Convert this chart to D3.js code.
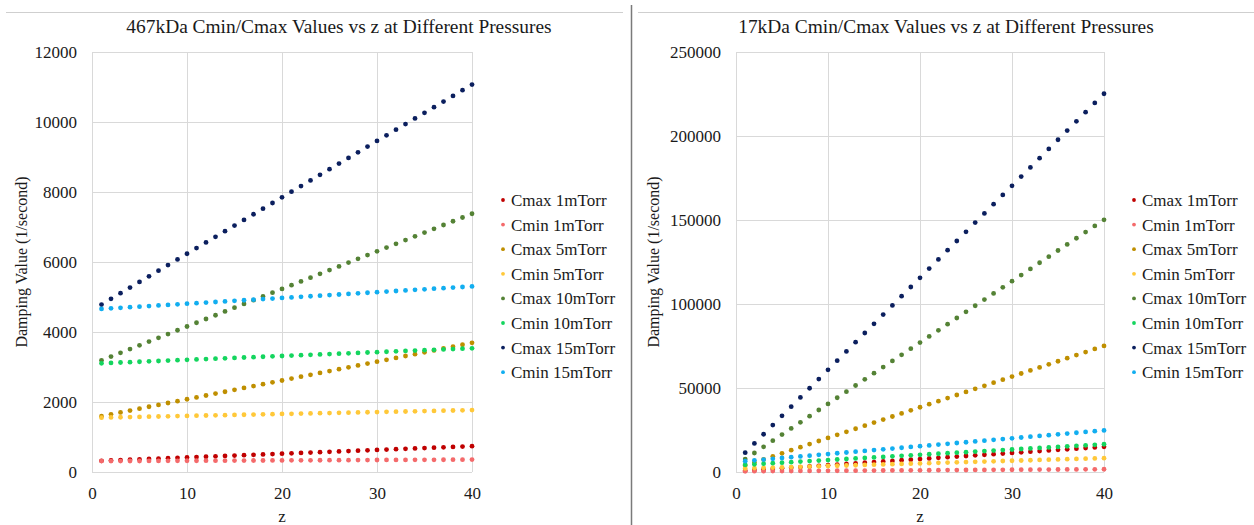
<!DOCTYPE html>
<head>
<title>Cmin/Cmax vs z</title>
<style>
  body { margin: 0; background: #fff; }
  svg { display: block; }
  svg text { font-family: "Liberation Serif", "Times New Roman", serif; }
</style>
</head>
<body>
<svg width="1254" height="525" id="svg1"></svg>
<script src="https://d3js.org/d3.v7.min.js"></script>
<script>

// z values (charge states) shared by both panels
var zValues = [1, 2, 3, 4, 5, 6, 7, 8, 9, 10, 11, 12, 13, 14, 15, 16, 17, 18, 19, 20,
               21, 22, 23, 24, 25, 26, 27, 28, 29, 30, 31, 32, 33, 34, 35, 36, 37, 38, 39, 40];

var seriesNames = ["Cmax 1mTorr", "Cmin 1mTorr", "Cmax 5mTorr", "Cmin 5mTorr",
                   "Cmax 10mTorr", "Cmin 10mTorr", "Cmax 15mTorr", "Cmin 15mTorr"];

var seriesColors = ["#c00000", "#f46a6b", "#bf8f00", "#ffc839",
                    "#548235", "#14d55e", "#0b1f5e", "#12aef0"];

// 467kDa panel
var k467Cmax1 = [319, 330, 341, 351, 362, 373, 384, 394, 405, 416, 426, 437, 448, 459, 469, 480, 491, 502, 512, 523,
                 534, 545, 555, 566, 577, 588, 598, 609, 620, 631, 641, 652, 663, 674, 684, 695, 706, 716, 727, 738];
var k467Cmin1 = [311, 312, 313, 314, 315, 316, 317, 318, 319, 321, 322, 323, 324, 325, 326, 327, 328, 329, 330, 332,
                 333, 334, 335, 336, 337, 338, 339, 340, 341, 343, 344, 345, 346, 347, 348, 349, 350, 351, 352, 354];
var k467Cmax5 = [1595, 1649, 1703, 1756, 1810, 1864, 1917, 1971, 2025, 2078, 2132, 2186, 2240, 2293, 2347, 2401, 2454, 2508, 2562, 2615,
                 2669, 2723, 2777, 2830, 2884, 2938, 2991, 3045, 3099, 3152, 3206, 3260, 3314, 3367, 3421, 3475, 3528, 3582, 3636, 3690];
var k467Cmin5 = [1553, 1559, 1564, 1570, 1575, 1581, 1586, 1592, 1597, 1603, 1608, 1614, 1619, 1625, 1630, 1636, 1641, 1647, 1652, 1658,
                 1663, 1669, 1674, 1680, 1685, 1691, 1696, 1702, 1707, 1713, 1718, 1724, 1729, 1735, 1740, 1746, 1751, 1757, 1762, 1768];
var k467Cmax10 = [3190, 3298, 3405, 3513, 3620, 3727, 3835, 3942, 4050, 4157, 4264, 4372, 4479, 4587, 4694, 4801, 4909, 5016, 5124, 5231,
                  5338, 5446, 5553, 5661, 5768, 5875, 5983, 6090, 6198, 6305, 6412, 6520, 6627, 6735, 6842, 6949, 7057, 7164, 7272, 7379];
var k467Cmin10 = [3106, 3117, 3128, 3139, 3150, 3161, 3172, 3183, 3194, 3205, 3216, 3227, 3238, 3249, 3260, 3271, 3282, 3293, 3304, 3315,
                  3326, 3337, 3348, 3359, 3370, 3381, 3392, 3403, 3414, 3425, 3436, 3447, 3458, 3469, 3480, 3491, 3502, 3513, 3524, 3535];
var k467Cmax15 = [4785, 4947, 5108, 5269, 5430, 5591, 5752, 5913, 6075, 6236, 6397, 6558, 6719, 6880, 7041, 7202, 7364, 7525, 7686, 7847,
                  8008, 8169, 8330, 8491, 8652, 8813, 8974, 9135, 9297, 9458, 9619, 9780, 9941, 10102, 10263, 10424, 10585, 10746, 10908, 11069];
var k467Cmin15 = [4659, 4676, 4692, 4709, 4725, 4742, 4758, 4775, 4791, 4808, 4824, 4841, 4857, 4874, 4890, 4907, 4923, 4940, 4956, 4973,
                  4989, 5006, 5022, 5039, 5055, 5072, 5088, 5105, 5121, 5138, 5154, 5171, 5187, 5204, 5220, 5237, 5253, 5270, 5286, 5303];

// 17kDa panel
var k17Cmax1 = [770, 1130, 1500, 1860, 2230, 2590, 2960, 3320, 3690, 4050, 4420, 4780, 5150, 5510, 5880, 6250, 6610, 6980, 7340, 7710,
                8070, 8440, 8800, 9170, 9530, 9900, 10260, 10630, 10990, 11360, 11720, 12090, 12450, 12820, 13180, 13550, 13910, 14280, 14640, 15010];
var k17Cmin1 = [430, 462, 493, 524, 556, 587, 618, 649, 681, 712, 743, 775, 806, 837, 869, 900, 931, 962, 994, 1025,
                1056, 1088, 1119, 1150, 1182, 1213, 1244, 1275, 1307, 1338, 1369, 1401, 1432, 1463, 1495, 1526, 1557, 1588, 1620, 1651];
var k17Cmax5 = [3840, 5660, 7490, 9320, 11140, 12970, 14790, 16620, 18450, 20270, 22100, 23920, 25750, 27580, 29400, 31230, 33050, 34880, 36710, 38530,
                40360, 42180, 44010, 45840, 47660, 49490, 51310, 53140, 54970, 56790, 58620, 60440, 62270, 64100, 65920, 67750, 69570, 71400, 73230, 75050];
var k17Cmin5 = [2152, 2308, 2465, 2621, 2778, 2934, 3091, 3247, 3404, 3560, 3717, 3873, 4030, 4186, 4343, 4499, 4656, 4812, 4969, 5125,
                5282, 5438, 5595, 5751, 5908, 6064, 6221, 6377, 6534, 6690, 6847, 7003, 7160, 7316, 7473, 7629, 7786, 7942, 8099, 8255];
var k17Cmax10 = [7670, 11320, 14980, 18630, 22280, 25930, 29580, 33240, 36890, 40540, 44190, 47840, 51500, 55150, 58800, 62450, 66100, 69760, 73410, 77060,
                 80710, 84360, 88020, 91670, 95320, 98970, 102620, 106280, 109930, 113580, 117230, 120880, 124540, 128190, 131840, 135490, 139140, 142800, 146450, 150100];
var k17Cmin10 = [4303, 4616, 4929, 5242, 5555, 5868, 6181, 6494, 6807, 7120, 7433, 7746, 8059, 8372, 8685, 8998, 9311, 9624, 9937, 10250,
                 10563, 10876, 11189, 11502, 11815, 12128, 12441, 12754, 13067, 13380, 13693, 14006, 14319, 14632, 14945, 15258, 15571, 15884, 16197, 16510];
var k17Cmax15 = [11510, 16980, 22470, 27950, 33420, 38900, 44370, 49860, 55340, 60810, 66290, 71760, 77250, 82730, 88200, 93680, 99150, 104640, 110120, 115590,
                 121070, 126540, 132030, 137510, 142980, 148460, 153930, 159420, 164900, 170370, 175850, 181320, 186810, 192290, 197760, 203240, 208710, 214200, 219680, 225150];
var k17Cmin15 = [6455, 6924, 7394, 7863, 8333, 8802, 9272, 9741, 10211, 10680, 11150, 11619, 12089, 12558, 13028, 13497, 13967, 14436, 14906, 15375,
                 15845, 16314, 16784, 17253, 17723, 18192, 18662, 19131, 19601, 20070, 20540, 21009, 21479, 21948, 22418, 22887, 23357, 23826, 24296, 24765];

var xTicks = [0, 10, 20, 30, 40];
var yTicks467 = [0, 2000, 4000, 6000, 8000, 10000, 12000];
var yTicks17 = [0, 50000, 100000, 150000, 200000, 250000];

var svg = d3.select("#svg1");
var textColor = "#1a1a1a";
var gridColor = "#d9d9d9";

// frame lines from the two screenshots
svg.append("line").attr("x1", 6).attr("x2", 623).attr("y1", 12.5).attr("y2", 12.5)
   .attr("stroke", "#cfcfcf");
svg.append("line").attr("x1", 638).attr("x2", 1254).attr("y1", 12.5).attr("y2", 12.5)
   .attr("stroke", "#cfcfcf");
svg.append("line").attr("x1", 631.5).attr("x2", 631.5).attr("y1", 5).attr("y2", 525)
   .attr("stroke", "#7a7a7a").attr("stroke-width", 1.5);

function drawPanel(p) {
  var x = d3.scaleLinear().domain([0, 40]).range([p.left, p.right]);
  var y = d3.scaleLinear().domain([0, p.yTicks[p.yTicks.length - 1]]).range([p.bottom, p.top]);
  var g = svg.append("g");

  // grid
  g.selectAll(".hgrid").data(p.yTicks).enter().append("line")
    .attr("x1", p.left).attr("x2", p.right)
    .attr("y1", function(d) { return Math.round(y(d)) + 0.5; })
    .attr("y2", function(d) { return Math.round(y(d)) + 0.5; })
    .attr("stroke", gridColor);
  g.selectAll(".vgrid").data(xTicks).enter().append("line")
    .attr("y1", p.top).attr("y2", p.bottom)
    .attr("x1", function(d) { return Math.round(x(d)) + 0.5; })
    .attr("x2", function(d) { return Math.round(x(d)) + 0.5; })
    .attr("stroke", gridColor);

  // axes (labels only)
  var yAxis = g.append("g")
    .attr("transform", "translate(" + p.left + ",0)")
    .call(d3.axisLeft(y).tickValues(p.yTicks).tickSize(0).tickPadding(15).tickFormat(d3.format("d")));
  var xAxis = g.append("g")
    .attr("transform", "translate(0," + p.bottom + ")")
    .call(d3.axisBottom(x).tickValues(xTicks).tickSize(0).tickPadding(15));
  [yAxis, xAxis].forEach(function(a) {
    a.attr("font-family", null).attr("font-size", null);
    a.select(".domain").remove();
    a.selectAll("text").attr("font-size", "17px").attr("fill", textColor);
  });

  // titles
  g.append("text")
    .attr("x", p.titleX).attr("y", 33)
    .attr("text-anchor", "middle")
    .attr("font-size", "19.4px").attr("fill", textColor)
    .text(p.title);
  g.append("text")
    .attr("x", (p.left + p.right) / 2).attr("y", 522)
    .attr("text-anchor", "middle")
    .attr("font-size", "17px").attr("fill", textColor)
    .text("z");
  g.append("text")
    .attr("transform", "translate(" + p.ylabX + "," + ((p.top + p.bottom) / 2) + ") rotate(-90)")
    .attr("text-anchor", "middle")
    .attr("dy", "0.35em")
    .attr("font-size", "16px").attr("fill", textColor)
    .text("Damping Value (1/second)");

  // points
  p.series.forEach(function(vals, i) {
    g.append("g").selectAll("circle")
      .data(vals).enter().append("circle")
      .attr("cx", function(d, j) { return x(zValues[j]); })
      .attr("cy", function(d) { return y(d); })
      .attr("r", 2.4)
      .attr("fill", seriesColors[i]);
  });

  // legend
  var legend = g.selectAll(".legend")
    .data(seriesNames).enter()
    .append("g")
    .attr("transform", function(d, i) { return "translate(" + p.legendX + "," + (200 + i * 24.6) + ")"; });
  legend.append("circle")
    .attr("r", 1.9)
    .attr("fill", function(d, i) { return seriesColors[i]; });
  legend.append("text")
    .attr("x", 8).attr("dy", "0.35em")
    .attr("font-size", "17px").attr("fill", textColor)
    .text(function(d) { return d; });
}

drawPanel({
  left: 92, right: 472, top: 52, bottom: 472,
  yTicks: yTicks467,
  title: "467kDa Cmin/Cmax Values vs z at Different Pressures",
  titleX: 339, ylabX: 21, legendX: 503,
  series: [k467Cmax1, k467Cmin1, k467Cmax5, k467Cmin5, k467Cmax10, k467Cmin10, k467Cmax15, k467Cmin15]
});

drawPanel({
  left: 736, right: 1104, top: 52, bottom: 472,
  yTicks: yTicks17,
  title: "17kDa Cmin/Cmax Values vs z at Different Pressures",
  titleX: 946, ylabX: 653, legendX: 1134,
  series: [k17Cmax1, k17Cmin1, k17Cmax5, k17Cmin5, k17Cmax10, k17Cmin10, k17Cmax15, k17Cmin15]
});

</script>
</body>
